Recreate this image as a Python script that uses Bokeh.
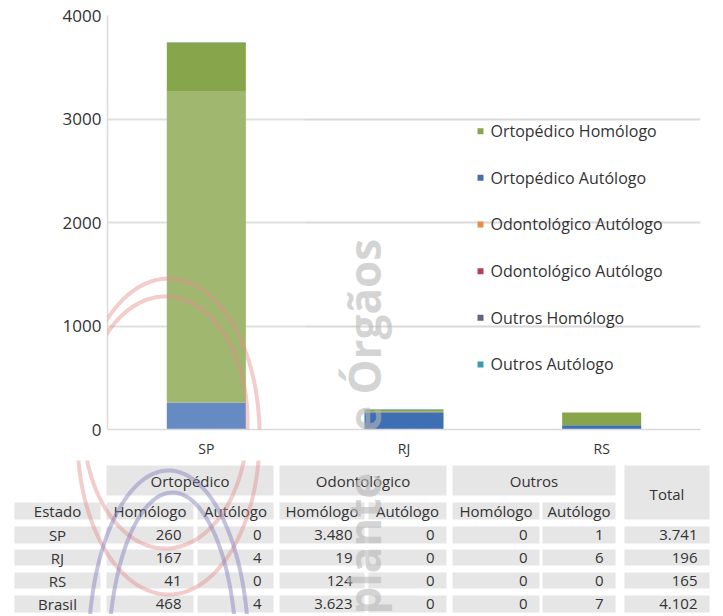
import math
import numpy as np
from bokeh.plotting import figure
from bokeh.layouts import column
from bokeh.models import (ColumnDataSource, FactorRange, Range1d, FixedTicker,
                          BoxAnnotation, Label, PolyAnnotation)
from bokeh.core.properties import value
from bokeh.embed import file_html
from bokeh.resources import INLINE

# ---------------- data ----------------
states = ["SP", "RJ", "RS"]
orto_homologo = [260, 167, 41]
orto_autologo = [0, 4, 0]
odonto_homologo = [3480, 19, 124]
odonto_autologo = [0, 0, 0]
outros_homologo = [0, 0, 0]
outros_autologo = [1, 6, 0]
totals = [3741, 196, 165]
brasil_row = [468, 4, 3623, 0, 0, 7, 4102]

y_ticks = [0, 1000, 2000, 3000, 4000]

legend_labels = ["Ortopédico Homólogo", "Ortopédico Autólogo", "Odontológico Autólogo",
                 "Odontológico Autólogo", "Outros Homólogo", "Outros Autólogo"]
legend_colors = ["#8aa34f", "#4a6fa8", "#e3904c", "#b0405c", "#66627f", "#3c9daa"]

group_headers = ["Ortopédico", "Odontológico", "Outros"]
sub_headers = ["Homólogo", "Autólogo"]
first_col_header = "Estado"
total_header = "Total"
row_names = states + ["Brasil"]

watermark_text = "Transplante de Órgãos"

# ---------------- styles / layout ----------------
FONT = "Open Sans"
TXT = "#333333"
GRID = "#d9d9d9"
BLUE = "#3f6fb3"
GREEN = "#87a64b"
W = 720
H1, H2 = 460, 154

# chart frame in page pixel coordinates
FX0, FX1, FY_TOP, FY0 = 107, 700, 15, 432


def dx(px):
    return (px - FX0) / (FX1 - FX0) * len(states)


def dy(py):
    return (FY0 - py) / (FY0 - FY_TOP) * y_ticks[-1]


# ---------------- chart ----------------
p = figure(width=W, height=H1, x_range=FactorRange(*states, range_padding=0),
           y_range=Range1d(y_ticks[0], y_ticks[-1]),
           toolbar_location=None, output_backend="svg",
           min_border_left=FX0, min_border_right=W - FX1,
           min_border_top=FY_TOP, min_border_bottom=H1 - FY0)
p.outline_line_color = None
p.background_fill_color = "white"
if hasattr(p, "frame_align"):
    p.frame_align = False

source = ColumnDataSource(dict(state=states, oh=orto_homologo, oa=orto_autologo,
                               dh=odonto_homologo, da=odonto_autologo,
                               uh=outros_homologo, ua=outros_autologo))
stack_keys = ["oh", "oa", "dh", "da", "uh", "ua"]
stack_colors = [BLUE, legend_colors[2], GREEN, legend_colors[3], legend_colors[4], legend_colors[5]]
p.vbar_stack(stack_keys, x="state", width=0.4, color=stack_colors, line_width=0,
             source=source)

p.yaxis.ticker = FixedTicker(ticks=y_ticks)
p.ygrid.ticker = FixedTicker(ticks=y_ticks)
p.ygrid.grid_line_color = GRID
p.ygrid.grid_line_width = 2
p.xgrid.grid_line_color = None
for ax in (p.xaxis, p.yaxis):
    ax.axis_line_color = GRID
    ax.axis_line_width = 1.5
    ax.major_tick_line_color = None
    ax.minor_tick_line_color = None
    ax.major_tick_out = 0
    ax.major_tick_in = 0
    ax.minor_tick_out = 0
    ax.major_label_text_font = FONT
    ax.major_label_text_color = TXT
p.yaxis.major_label_text_font_size = "17px"
p.yaxis.major_label_standoff = 6
p.xaxis.major_label_text_font_size = "14px"
p.xaxis.major_label_standoff = 9

# legend (drawn manually to match layout)
leg_y = [dy(131.5 + 47 * i) for i in range(len(legend_labels))]
p.scatter(x=[dx(480)] * len(legend_labels), y=leg_y, marker="square", size=6,
          color=legend_colors, line_width=0)
p.text(x=[dx(490)] * len(legend_labels), y=leg_y, text=legend_labels,
       text_baseline="middle", text_align="left", text_font=value(FONT),
       text_font_size="16px", text_color=TXT)

# watermark: lightened area, rings and rotated text
p.add_layout(BoxAnnotation(right=1.0, bottom=0, top=dy(91), fill_color="white",
                           fill_alpha=0.2, line_color=None))


def ellipse(cx, cy, a, b, n=180):
    t = np.linspace(0, 2 * np.pi, n)
    return cx + a * np.cos(t), cy + b * np.sin(t)


RING = "#e48f8f"
rings = [(168, 437, 91, 157), (165, 423, 82, 125)]
for (cx, cy, a, b) in rings:
    ex, ey = ellipse(cx, cy, a, b)
    p.add_layout(PolyAnnotation(xs=[dx(v) for v in ex], ys=[dy(v) for v in ey],
                                fill_alpha=0, line_color=RING, line_alpha=0.45,
                                line_width=4))

p.add_layout(Label(x=dx(363), y=dy(240), text=watermark_text, angle=math.pi / 2,
                   text_align="right", text_baseline="alphabetic", text_font=FONT,
                   text_font_size="44px", text_font_style="bold",
                   text_color="#b8b8b8", text_alpha=0.6))

# ---------------- table ----------------
t = figure(width=W, height=H2, x_range=Range1d(0, W), y_range=Range1d(H2, 0),
           toolbar_location=None, output_backend="svg", min_border=0,
           min_border_left=0, min_border_right=0, min_border_top=0, min_border_bottom=0)
t.axis.visible = False
t.grid.visible = False
t.outline_line_color = None
if hasattr(t, "frame_align"):
    t.frame_align = False

TOP2 = H1  # page y where table figure starts

col_l = [14, 106, 197, 279, 368, 452, 542, 624]
col_r = [100, 193, 273, 364, 446, 539, 615, 709]
row_t = [526, 549, 572, 595]
row_b = [543, 565, 588, 612]
head1 = (465, 495)
head2 = (502, 519)
CELL = "#e6e6e6"


def cy_(py):
    return py - TOP2


ql, qr, qt, qb = [], [], [], []
texts = dict(x=[], y=[], text=[], align=[])


def add_text(x, y, s, align):
    texts["x"].append(x)
    texts["y"].append(cy_(y))
    texts["text"].append(s)
    texts["align"].append(align)


def add_cell(l, r, tp, bt):
    ql.append(l); qr.append(r); qt.append(cy_(tp)); qb.append(cy_(bt))


# header row 1: groups
for g, name in enumerate(group_headers):
    l, r = col_l[1 + 2 * g], col_r[2 + 2 * g]
    add_cell(l, r, *head1)
    add_text((l + r) / 2, (head1[0] + head1[1]) / 2, name, "center")
# total header (merged)
add_cell(col_l[7], col_r[7], head1[0], head2[1])
add_text((col_l[7] + col_r[7]) / 2, (head1[0] + head2[1]) / 2 + 1, total_header, "center")
# header row 2
add_cell(col_l[0], col_r[0], *head2)
add_text((col_l[0] + col_r[0]) / 2, (head2[0] + head2[1]) / 2, first_col_header, "center")
for c in range(6):
    add_cell(col_l[1 + c], col_r[1 + c], *head2)
    add_text((col_l[1 + c] + col_r[1 + c]) / 2, (head2[0] + head2[1]) / 2,
             sub_headers[c % 2], "center")


def fmt(n):
    return f"{n:,}".replace(",", ".")


state_rows = [[orto_homologo[i], orto_autologo[i], odonto_homologo[i], odonto_autologo[i],
               outros_homologo[i], outros_autologo[i], totals[i]] for i in range(len(states))]
all_rows = state_rows + [brasil_row]
for r_i, (name, vals) in enumerate(zip(row_names, all_rows)):
    tp, bt = row_t[r_i], row_b[r_i]
    ym = (tp + bt) / 2
    add_cell(col_l[0], col_r[0], tp, bt)
    add_text((col_l[0] + col_r[0]) / 2, ym, name, "center")
    for c, v in enumerate(vals):
        add_cell(col_l[1 + c], col_r[1 + c], tp, bt)
        add_text(col_r[1 + c] - 12, ym, fmt(v), "right")

t.quad(left=ql, right=qr, top=qt, bottom=qb, fill_color=CELL, line_color=None)
tsrc = ColumnDataSource(texts)
t.text(x="x", y="y", text="text", text_align="align", text_baseline="middle",
       text_font=value(FONT), text_font_size="15px", text_color=TXT, source=tsrc)

# watermark parts over the table
for (cx, cy, a, b) in rings:
    ex, ey = ellipse(cx, cy, a, b)
    t.line(ex, ey - TOP2, line_color=RING, line_alpha=0.45, line_width=4)
for (cx, cy, a, b) in [(168, 650, 80, 180), (172, 660, 64, 168)]:
    ex, ey = ellipse(cx, cy, a, b)
    t.line(ex, ey - TOP2, line_color="#8a86bd", line_alpha=0.5, line_width=4)
t.add_layout(Label(x=363, y=cy_(240), text=watermark_text, angle=math.pi / 2,
                   text_align="right", text_baseline="alphabetic", text_font=FONT,
                   text_font_size="44px", text_font_style="bold",
                   text_color="#b8b8b8", text_alpha=0.6))

layout = column(p, t, spacing=0)
open("out.html", "w").write(file_html(layout, INLINE))
